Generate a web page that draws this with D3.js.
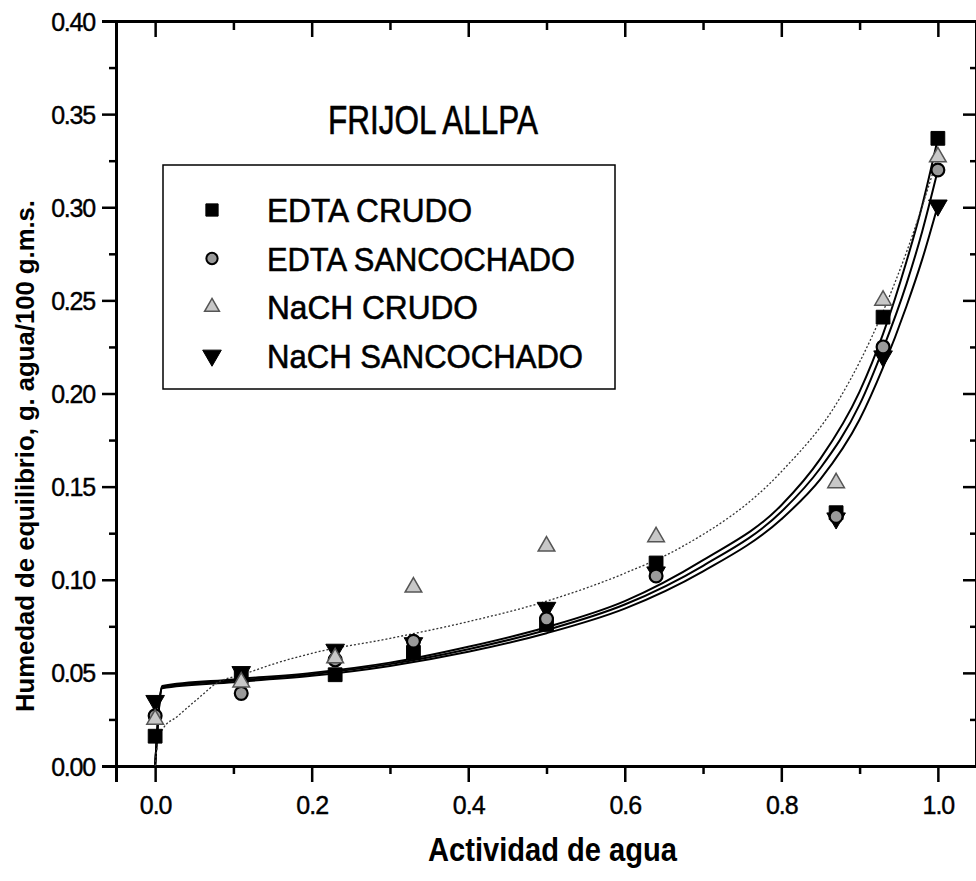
<!DOCTYPE html>
<html>
<head>
<meta charset="utf-8">
<script src="https://cdn.jsdelivr.net/npm/d3@7"></script>
<style>
  html, body { margin: 0; padding: 0; background: #fff; }
  svg { display: block; font-family: "Liberation Sans", Arial, sans-serif; }
</style>
</head>
<body>
<div id="chart"></div>
<script>
// water activity of each measured point
const aw = [0.0, 0.11, 0.23, 0.33, 0.50, 0.64, 0.87, 0.93, 1.0];

// measured moisture, g water / 100 g d.m.
const edtaCrudo = [0.016, 0.048, 0.049, 0.061, 0.076, 0.109, 0.136, 0.241, 0.337];
const edtaSancochado = [0.027, 0.039, 0.057, 0.067, 0.079, 0.102, 0.134, 0.225, 0.320];
const nachCrudo = [0.025, 0.045, 0.058, 0.096, 0.118, 0.123, 0.152, 0.250, 0.327];
const nachSancochado = [0.035, 0.0505, 0.0625, 0.066, 0.085, 0.104, 0.133, 0.220, 0.301];

// fitted curves
const fitAw = [0.0, 0.009, 0.1, 0.2, 0.3, 0.4, 0.5, 0.6, 0.7, 0.8, 0.85, 0.9, 0.93, 0.96, 0.98, 1.0];
const fitEdtaCrudo = [0.0, 0.0430, 0.0465, 0.0500, 0.0555, 0.0640, 0.0745, 0.0885, 0.1105, 0.1400, 0.1650, 0.2010, 0.2320, 0.2710, 0.3010, 0.337];
const fitEdtaSancochado = [0.0, 0.0425, 0.0458, 0.0493, 0.0547, 0.0627, 0.0730, 0.0867, 0.1075, 0.1365, 0.1600, 0.1940, 0.2240, 0.2590, 0.2870, 0.320];
const fitNachSancochado = [0.0, 0.0418, 0.0450, 0.0484, 0.0537, 0.0613, 0.0713, 0.0845, 0.1045, 0.1325, 0.1540, 0.1860, 0.2140, 0.2470, 0.2720, 0.301];

const dotAw = [0.0, 0.003, 0.010, 0.028, 0.057, 0.079, 0.111, 0.156, 0.2, 0.3, 0.4, 0.5, 0.6, 0.67, 0.8, 0.874, 0.93, 0.96, 1.0];
const fitNachCrudo = [0.0, 0.012, 0.020, 0.0265, 0.037, 0.0446, 0.049, 0.0554, 0.0605, 0.0685, 0.0775, 0.0885, 0.1035, 0.1170, 0.1580, 0.1970, 0.2440, 0.2760, 0.327];

const seriesNames = ["EDTA CRUDO", "EDTA SANCOCHADO", "NaCH CRUDO", "NaCH SANCOCHADO"];
const xTicks = [0.0, 0.2, 0.4, 0.6, 0.8, 1.0];
const xMinor = [0.1, 0.3, 0.5, 0.7, 0.9];
const yTicks = [0.00, 0.05, 0.10, 0.15, 0.20, 0.25, 0.30, 0.35, 0.40];
const yMinor = [0.025, 0.075, 0.125, 0.175, 0.225, 0.275, 0.325, 0.375];

const width = 976;
const height = 881;

const svg = d3.select("#chart")
  .append("svg")
  .attr("width", width)
  .attr("height", height);

const x = d3.scaleLinear().domain([-0.05, 1.05]).range([116, 977]);
const y = d3.scaleLinear().domain([0, 0.4]).range([766, 21]);

// axes
const axisLeftG = svg.append("g").attr("transform", `translate(${x.range()[0]},0)`)
  .call(d3.axisLeft(y).tickValues(yTicks).tickSize(14).tickFormat(d3.format(".2f")));
const axisBottomG = svg.append("g").attr("transform", `translate(0,${y.range()[0]})`)
  .call(d3.axisBottom(x).tickValues(xTicks).tickSize(16).tickFormat(d3.format(".1f")));
svg.append("g").attr("transform", `translate(0,${y.range()[1]})`)
  .call(d3.axisTop(x).tickValues(xTicks).tickSize(-16).tickFormat(""));
svg.append("g").attr("transform", `translate(${x.range()[1] - 1},0)`)
  .call(d3.axisRight(y).tickValues(yTicks).tickSize(-13).tickFormat(""));

// minor ticks
svg.append("g").attr("transform", `translate(${x.range()[0]},0)`)
  .call(d3.axisLeft(y).tickValues(yMinor).tickSize(7).tickFormat(""))
  .call(g => g.select(".domain").remove());
svg.append("g").attr("transform", `translate(${x.range()[1] - 1},0)`)
  .call(d3.axisRight(y).tickValues(yMinor).tickSize(-6).tickFormat(""))
  .call(g => g.select(".domain").remove());
svg.append("g").attr("transform", `translate(0,${y.range()[0]})`)
  .call(d3.axisBottom(x).tickValues(xMinor).tickSize(8).tickFormat(""))
  .call(g => g.select(".domain").remove());
svg.append("g").attr("transform", `translate(0,${y.range()[1]})`)
  .call(d3.axisTop(x).tickValues(xMinor).tickSize(-9).tickFormat(""))
  .call(g => g.select(".domain").remove());

svg.selectAll(".domain").attr("stroke", "#000").attr("stroke-width", 3);
svg.selectAll(".tick line").attr("stroke", "#000").attr("stroke-width", 2.5);

axisLeftG.selectAll(".tick text")
  .attr("x", -21)
  .attr("dy", "0.36em")
  .attr("font-size", 25)
  .attr("letter-spacing", -1.2)
  .attr("fill", "#000")
  .attr("stroke", "#000")
  .attr("stroke-width", 0.4);
axisBottomG.selectAll(".tick text")
  .attr("y", 30)
  .attr("dy", "0.71em")
  .attr("font-size", 25)
  .attr("letter-spacing", -1)
  .attr("fill", "#000")
  .attr("stroke", "#000")
  .attr("stroke-width", 0.4);

// fitted lines
const line = d3.line().x(d => x(d[0])).y(d => y(d[1])).curve(d3.curveMonotoneX);

const solidFits = [fitEdtaCrudo, fitEdtaSancochado, fitNachSancochado];
solidFits.forEach(vals => {
  svg.append("path")
    .attr("d", line(fitAw.map((a, i) => [a, vals[i]])))
    .attr("fill", "none")
    .attr("stroke", "#000")
    .attr("stroke-width", 2);
});

svg.append("path")
  .attr("d", line(dotAw.map((a, i) => [a, fitNachCrudo[i]])))
  .attr("fill", "none")
  .attr("stroke", "#333")
  .attr("stroke-width", 1.3)
  .attr("stroke-dasharray", "2,2");

// markers
const styles = [
  { vals: edtaCrudo, type: d3.symbolSquare, size: 190, fill: "#000", stroke: "#000", sw: 1, rot: 0 },
  { vals: nachSancochado, type: d3.symbolTriangle, size: 150, fill: "#000", stroke: "#000", sw: 1, rot: 180 },
  { vals: edtaSancochado, type: d3.symbolCircle, size: 130, fill: "#9a9a9a", stroke: "#000", sw: 2.2, rot: 0 },
  { vals: nachCrudo, type: d3.symbolTriangle, size: 120, fill: "#c8c8c8", stroke: "#555", sw: 1.5, rot: 0 }
];

styles.forEach(s => {
  svg.append("g").selectAll("path")
    .data(aw.map((a, i) => [a, s.vals[i]]))
    .join("path")
    .attr("d", d3.symbol().type(s.type).size(s.size))
    .attr("transform", d => `translate(${x(d[0])},${y(d[1])}) rotate(${s.rot})`)
    .attr("fill", s.fill)
    .attr("stroke", s.stroke)
    .attr("stroke-width", s.sw);
});

// title
svg.append("text")
  .attr("x", 328).attr("y", 134)
  .attr("font-size", 40)
  .attr("textLength", 210)
  .attr("lengthAdjust", "spacingAndGlyphs")
  .attr("stroke", "#000")
  .attr("stroke-width", 0.6)
  .text("FRIJOL ALLPA");

// legend
svg.append("rect")
  .attr("x", 163).attr("y", 165)
  .attr("width", 452).attr("height", 224)
  .attr("fill", "#fff")
  .attr("stroke", "#000")
  .attr("stroke-width", 1.5);

const legendMarks = [
  { type: d3.symbolSquare, size: 150, fill: "#000", stroke: "#000", sw: 1, rot: 0 },
  { type: d3.symbolCircle, size: 100, fill: "#9a9a9a", stroke: "#000", sw: 2, rot: 0 },
  { type: d3.symbolTriangle, size: 95, fill: "#c8c8c8", stroke: "#555", sw: 1.5, rot: 0 },
  { type: d3.symbolTriangle, size: 150, fill: "#000", stroke: "#000", sw: 1, rot: 180 }
];
const legendLen = [205, 308, 211, 316];

seriesNames.forEach((name, i) => {
  const cy = 210 + i * 48.5;
  const m = legendMarks[i];
  svg.append("path")
    .attr("d", d3.symbol().type(m.type).size(m.size))
    .attr("transform", `translate(212,${cy}) rotate(${m.rot})`)
    .attr("fill", m.fill)
    .attr("stroke", m.stroke)
    .attr("stroke-width", m.sw);
  svg.append("text")
    .attr("x", 267).attr("y", cy + 12)
    .attr("font-size", 34)
    .attr("textLength", legendLen[i])
    .attr("lengthAdjust", "spacingAndGlyphs")
    .attr("stroke", "#000")
    .attr("stroke-width", 0.6)
    .text(name);
});

// axis titles
svg.append("text")
  .attr("x", 428).attr("y", 861)
  .attr("font-size", 33)
  .attr("font-weight", "bold")
  .attr("textLength", 249)
  .attr("lengthAdjust", "spacingAndGlyphs")
  .text("Actividad de agua");

svg.append("text")
  .attr("transform", "translate(34,712) rotate(-90)")
  .attr("font-size", 25)
  .attr("font-weight", "bold")
  .attr("textLength", 512)
  .attr("lengthAdjust", "spacingAndGlyphs")
  .text("Humedad de equilibrio, g. agua/100 g.m.s.");
</script>
</body>
</html>
